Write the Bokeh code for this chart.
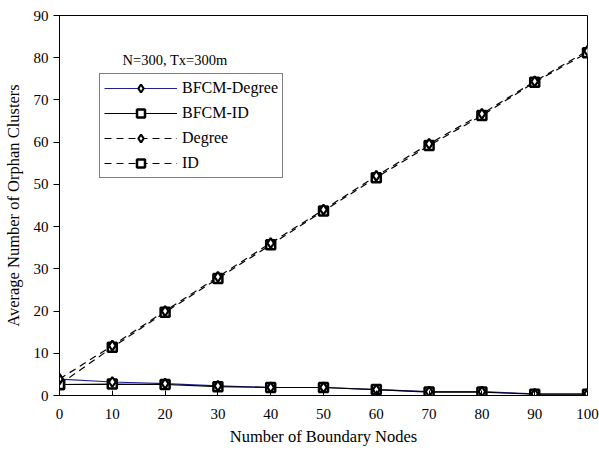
from bokeh.plotting import figure
from bokeh.models import Legend, LegendItem, Label, Range1d, FixedTicker
from bokeh.embed import file_html
from bokeh.resources import INLINE

boundary_nodes = [0, 10, 20, 30, 40, 50, 60, 70, 80, 90, 100]
bfcm_degree = [3.9, 3.2, 2.8, 2.3, 1.9, 1.9, 1.4, 0.9, 0.9, 0.4, 0.4]
bfcm_id = [2.6, 2.7, 2.6, 2.1, 1.9, 1.9, 1.4, 0.8, 0.8, 0.3, 0.3]
degree = [3.9, 11.8, 20.0, 28.1, 36.1, 44.0, 52.0, 59.6, 66.7, 74.4, 81.6]
ids = [2.6, 11.4, 19.7, 27.7, 35.7, 43.7, 51.6, 59.2, 66.3, 74.2, 81.2]
x_ticks = [0, 10, 20, 30, 40, 50, 60, 70, 80, 90, 100]
y_ticks = [0, 10, 20, 30, 40, 50, 60, 70, 80, 90]

FONT = "Liberation Serif"

p = figure(width=599, height=454, output_backend="svg", toolbar_location=None,
           x_range=Range1d(0, 100), y_range=Range1d(0, 90),
           min_border_left=57, min_border_right=12, min_border_top=15, min_border_bottom=59)
p.grid.visible = False
p.outline_line_color = "black"
p.outline_line_width = 1
p.background_fill_color = "white"
p.border_fill_color = "white"

for ax in (p.xaxis[0], p.yaxis[0]):
    ax.axis_line_color = "black"
    ax.major_tick_line_color = "black"
    ax.minor_tick_line_color = None
    ax.major_label_text_font = FONT
    ax.major_label_text_font_size = "15px"
    ax.major_label_text_color = "black"
    ax.axis_label_text_font = FONT
    ax.axis_label_text_font_size = "16.5px"
    ax.axis_label_text_font_style = "normal"
    ax.axis_label_text_color = "black"

p.xaxis.ticker = FixedTicker(ticks=x_ticks)
p.yaxis.ticker = FixedTicker(ticks=y_ticks)
p.xaxis.major_tick_in = 5
p.xaxis.major_tick_out = 0
p.xaxis.major_label_standoff = 13
p.xaxis.axis_label = "Number of Boundary Nodes"
p.xaxis.axis_label_standoff = 5
p.yaxis.major_tick_in = 0
p.yaxis.major_tick_out = 6
p.yaxis.major_label_standoff = 5
p.yaxis.axis_label = "Average Number of Orphan Clusters"
p.yaxis.axis_label_standoff = 8

NAVY = "#202090"

l1 = p.line(boundary_nodes, bfcm_degree, line_color=NAVY, line_width=1.2)
l2 = p.line(boundary_nodes, bfcm_id, line_color="black", line_width=1.2)
l3 = p.line(boundary_nodes, degree, line_color="black", line_width=1.2, line_dash="7 5")
l4 = p.line(boundary_nodes, ids, line_color="black", line_width=1.2, line_dash="7 5")

s2 = p.scatter(boundary_nodes, bfcm_id, marker="square", size=9, fill_color="white",
               line_color="black", line_width=2.5)
s4 = p.scatter(boundary_nodes, ids, marker="square", size=9, fill_color="white",
               line_color="black", line_width=2.5)
s1 = p.scatter(boundary_nodes, bfcm_degree, marker="diamond", size=10, fill_color="white",
               line_color="black", line_width=2.2)
s3 = p.scatter(boundary_nodes, degree, marker="diamond", size=10, fill_color="white",
               line_color="black", line_width=2.2)

legend = Legend(items=[
    LegendItem(label="BFCM-Degree", renderers=[l1, s1]),
    LegendItem(label="BFCM-ID", renderers=[l2, s2]),
    LegendItem(label="Degree", renderers=[l3, s3]),
    LegendItem(label="ID", renderers=[l4, s4]),
], location=(40, 217))
legend.label_text_font = FONT
legend.label_text_font_size = "16px"
legend.label_text_color = "black"
legend.glyph_width = 73
legend.glyph_height = 20
legend.label_height = 20
legend.spacing = 5
legend.padding = 4
legend.margin = 0
legend.label_standoff = 5
legend.border_line_color = "black"
legend.border_line_width = 1
legend.background_fill_color = "white"
legend.background_fill_alpha = 1
p.add_layout(legend, "center")

note = Label(x=63, y=336, x_units="screen", y_units="screen", text="N=300, Tx=300m",
             text_font=FONT, text_font_size="14.5px", text_color="black",
             text_baseline="middle")
p.add_layout(note)

open("out.html", "w").write(file_html(p, INLINE))
